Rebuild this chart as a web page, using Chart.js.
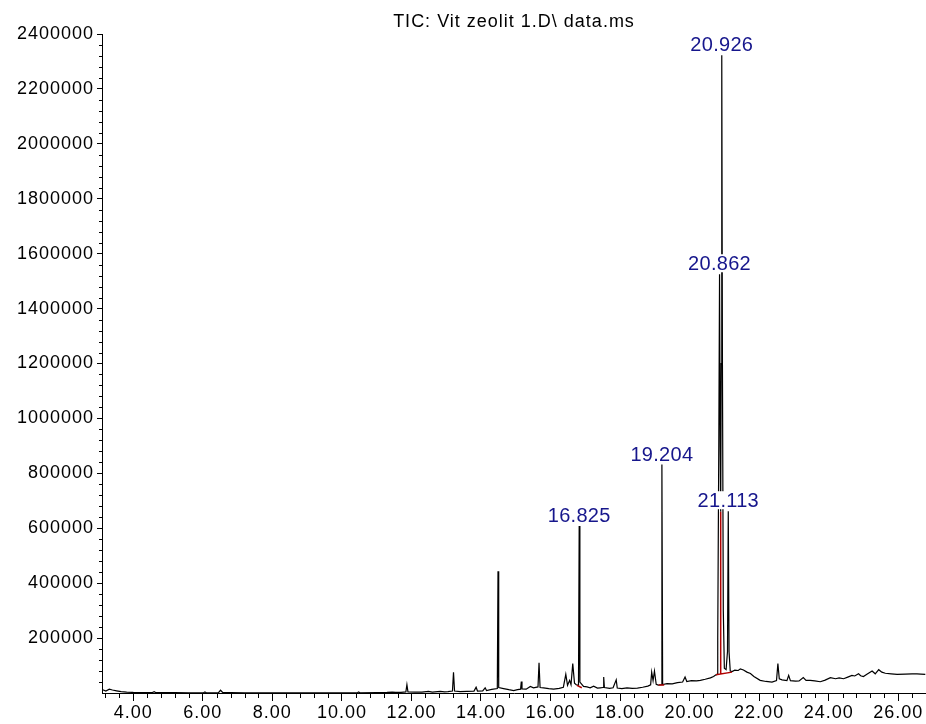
<!DOCTYPE html>
<html><head><meta charset="utf-8">
<script src="https://cdn.jsdelivr.net/npm/chart.js@4.4.1/dist/chart.umd.min.js"></script>
<style>html,body{margin:0;padding:0;background:#fff;}canvas{display:block}</style>
</head><body>
<canvas id="c" width="926" height="724"></canvas>
<script>
// ---- data ----
const chartTitle = 'TIC: Vit zeolit 1.D\\ data.ms';
const retentionTimes = [
 3.12,3.21,3.31,3.40,3.52,3.65,3.81,4.00,4.30,4.55,4.60,4.64,4.80,5.20,5.60,6.02,6.06,6.10,6.45,6.51,6.57,6.80,7.20,7.60,8.00,8.50,9.00,9.50,10.00,10.45,10.48,10.52,11.00,11.30,11.45,11.55,11.70,11.84,11.87,11.90,
 12.10,12.30,12.49,12.60,12.83,12.95,13.05,13.18,13.21,13.24,13.40,13.60,13.80,13.86,13.90,14.05,14.12,14.16,14.31,14.47,14.49,14.51,14.65,14.80,14.94,15.05,15.14,15.16,15.18,15.30,
 15.42,15.51,15.64,15.67,15.70,15.80,15.95,16.09,16.25,16.37,16.44,16.49,16.55,16.59,16.64,16.69,16.74,16.805,16.825,16.845,16.95,17.05,17.14,17.24,17.35,17.43,17.51,17.53,17.55,17.70,
 17.80,17.89,17.92,18.05,18.20,18.35,18.50,18.65,18.80,18.88,18.91,18.95,18.99,19.04,19.10,19.185,19.204,19.225,19.35,19.50,19.65,19.80,19.87,19.92,20.05,20.20,20.31,20.45,20.60,20.69,
 20.76,20.79,20.81,20.84,20.862,20.88,20.895,20.91,20.926,20.945,20.97,21.00,21.05,21.09,21.113,21.135,21.17,21.22,21.30,21.40,21.46,21.55,21.65,21.75,21.85,22.03,22.20,22.37,22.50,22.54,
 22.58,22.66,22.80,22.85,22.90,23.05,23.15,23.27,23.35,23.47,23.60,23.76,23.90,24.05,24.20,24.30,24.43,24.55,24.67,24.75,24.86,24.92,25.00,25.10,25.25,25.34,25.44,25.53,25.63,25.80,
 25.97,26.20,26.40,26.54,26.65,26.78
];
const abundance = [
 12000,7000,14000,11000,8000,5000,3000,2000,1500,1500,5000,1500,1500,1200,1000,1000,4000,1000,1200,10000,2000,1500,1000,800,800,800,1000,1000,1000,1000,4000,1000,1200,2000,3500,2000,2500,4000,30000,4000,
 3000,3500,6000,3500,6000,4000,5000,7000,75000,7000,5000,6000,7000,21000,7000,8000,19000,9000,13000,16000,443000,20000,16000,12000,9000,12000,14000,42000,15000,14000,
 24000,19000,22000,110000,20000,19000,16000,14000,17000,21000,68000,28000,46000,30000,107000,36000,30000,28000,608000,40000,24000,22000,19000,25000,18000,19000,20000,58000,20000,17000,
 19000,48000,18000,16000,19000,17000,18000,21000,25000,30000,76000,45000,80000,32000,29000,30000,832000,31000,34000,33000,38000,40000,58000,42000,45000,44000,46000,50000,55000,60000,
 66000,68000,200000,900000,1525000,900000,660000,1200000,2323000,1200000,300000,90000,85000,150000,662000,150000,80000,78000,83000,82000,88000,84000,76000,71000,60000,46000,42000,40000,45000,107000,
 52000,48000,45000,64000,45000,43000,44000,56000,46000,46000,44000,41000,47000,56000,52000,55000,52000,58000,64000,62000,70000,63000,60000,68000,80000,70000,85000,76000,72000,70000,
 68000,69000,70000,70000,69000,68000
];
// labelled peaks
const peakTimes  = [16.825, 19.204, 20.862, 20.926, 21.113];
const peakLabels = ['16.825', '19.204', '20.862', '20.926', '21.113'];
// integration baselines (red) : [start, end]
const integBaseT = [[16.76, 16.90], [19.11, 19.27], [20.76, 21.22]];
const integBaseV = [[27700, 19000], [29000, 29000], [66700, 76000]];
// integration drop line (red)
const dropLineT   = [20.895];
const dropLineBot = [69000];
const dropLineTop = [660000];
// axis ticks
const xMajorTicks = [4, 6, 8, 10, 12, 14, 16, 18, 20, 22, 24, 26];
const yMajorTicks = [200000, 400000, 600000, 800000, 1000000, 1200000, 1400000, 1600000, 1800000, 2000000, 2200000, 2400000];

// ---- build datasets ----
const tracePts = retentionTimes.map((t, i) => ({x: t, y: abundance[i]}));
const redPts = [];
integBaseT.forEach((seg, i) => {
  redPts.push({x: seg[0], y: integBaseV[i][0]}, {x: seg[1], y: integBaseV[i][1]}, {x: seg[1], y: null});
});
dropLineT.forEach((t, i) => {
  redPts.push({x: t, y: dropLineBot[i]}, {x: t, y: dropLineTop[i]}, {x: t, y: null});
});

const FONT = "'Liberation Sans', Arial, sans-serif";
const spacingPlugin = {
  id: 'spacing',
  beforeUpdate(chart) { chart.ctx.letterSpacing = '1px'; },
  beforeDraw(chart) { chart.ctx.letterSpacing = '1px'; }
};
const extrasPlugin = {
  id: 'extras',
  afterDraw(chart) {
    const ctx = chart.ctx, xs = chart.scales.x, ys = chart.scales.y;
    const area = chart.chartArea;
    ctx.save();
    ctx.strokeStyle = '#000';
    ctx.lineWidth = 1;
    ctx.beginPath();
    // minor x ticks every 0.4
    for (let k = 8; k <= 67; k++) {
      if (k % 5 === 0) continue;
      const px = Math.round(xs.getPixelForValue(k * 0.4)) + 0.5;
      ctx.moveTo(px, area.bottom);
      ctx.lineTo(px, area.bottom + 5);
    }
    // minor y ticks every 40000
    for (let k = 1; k < 60; k++) {
      if (k % 5 === 0) continue;
      const py = Math.round(ys.getPixelForValue(k * 40000)) + 0.5;
      ctx.moveTo(area.left - 3, py);
      ctx.lineTo(area.left, py);
    }
    ctx.stroke();
    // title centred over the plot area
    ctx.letterSpacing = '1px';
    ctx.font = '18px ' + FONT;
    ctx.fillStyle = '#000';
    ctx.textAlign = 'center';
    ctx.textBaseline = 'alphabetic';
    ctx.fillText(chartTitle, (area.left + area.right) / 2, 27);
    // peak labels with white boxes
    ctx.letterSpacing = '0.3px';
    ctx.font = '20px ' + FONT;
    peakTimes.forEach((t, i) => {
      const idx = retentionTimes.indexOf(t);
      const v = abundance[idx];
      const px = xs.getPixelForValue(t), py = ys.getPixelForValue(v) - 4;
      const w = ctx.measureText(peakLabels[i]).width;
      ctx.fillStyle = '#fff';
      ctx.fillRect(px - w / 2 - 1, py - 16, w + 2, 18);
      ctx.fillStyle = '#16168C';
      ctx.fillText(peakLabels[i], px, py);
    });
    ctx.restore();
  }
};

new Chart(document.getElementById('c'), {
  type: 'line',
  data: {
    datasets: [
      {data: tracePts, borderColor: '#000', borderWidth: 1.2, pointRadius: 0, tension: 0, fill: false, order: 2},
      {data: redPts, borderColor: '#B00000', borderWidth: 1.5, pointRadius: 0, tension: 0, fill: false, spanGaps: false, order: 1}
    ]
  },
  options: {
    responsive: false,
    devicePixelRatio: 1,
    animation: false,
    events: [],
    layout: {padding: {top: 34, left: 0, right: 0, bottom: 0}},
    plugins: {
      legend: {display: false},
      tooltip: {enabled: false},
      title: {display: false}
    },
    scales: {
      x: {
        type: 'linear', min: 3.1, max: 26.8,
        afterBuildTicks: s => { s.ticks = xMajorTicks.map(v => ({value: v})); },
        afterFit: s => { s.height = 31; },
        ticks: {
          color: '#000', font: {family: FONT, size: 18}, padding: 1, maxRotation: 0, autoSkip: false,
          callback: v => Number(v).toFixed(2)
        },
        grid: {drawOnChartArea: false, drawTicks: true, tickLength: 8, tickColor: '#000', color: '#000'},
        border: {display: true, color: '#000', width: 1}
      },
      y: {
        type: 'linear', min: 0, max: 2400000,
        afterBuildTicks: s => { s.ticks = yMajorTicks.map(v => ({value: v})); },
        afterFit: s => { s.width = 102; },
        ticks: {
          color: '#000', font: {family: FONT, size: 18}, padding: 3, autoSkip: false,
          callback: v => String(v)
        },
        grid: {drawOnChartArea: false, drawTicks: true, tickLength: 5, tickColor: '#000', color: '#000'},
        border: {display: true, color: '#000', width: 1}
      }
    }
  },
  plugins: [spacingPlugin, extrasPlugin]
});
</script>
</body></html>
